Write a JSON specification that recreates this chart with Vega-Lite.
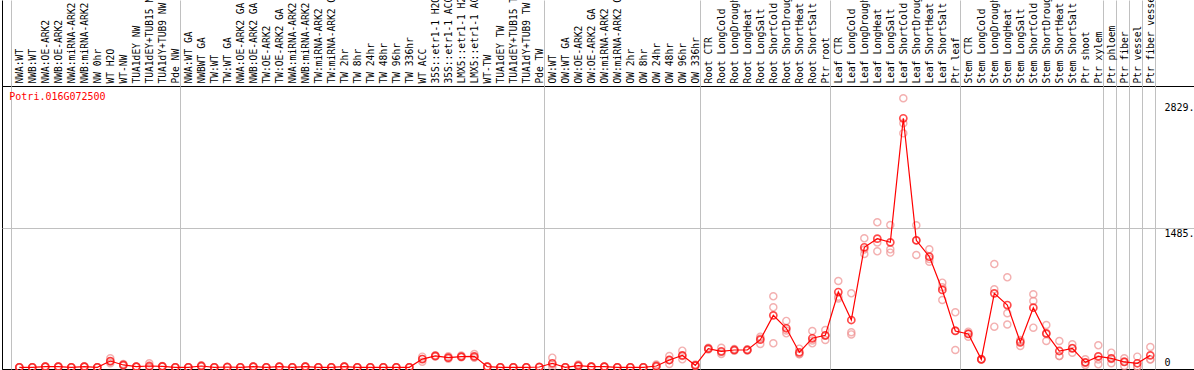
{
  "$schema": "https://vega.github.io/schema/vega-lite/v6.json",
  "width": 1192,
  "height": 283,
  "padding": {"top": 86, "left": 2, "right": 0, "bottom": 1},
  "autosize": {"type": "none"},
  "background": "white",
  "config": {"view": {"stroke": "black", "strokeWidth": 1}, "font": "DejaVu Sans Mono"},
  "datasets": {
    "means": [
      {"i":1,"sample":"NWA:WT","value":0},{"i":2,"sample":"NWB:WT","value":0},{"i":3,"sample":"NWA:OE-ARK2","value":7},{"i":4,"sample":"NWB:OE-ARK2","value":7},
      {"i":5,"sample":"NWA:miRNA-ARK2","value":0},{"i":6,"sample":"NWB:miRNA-ARK2","value":7},{"i":7,"sample":"NW 0hr","value":0},{"i":8,"sample":"WT H2O","value":67},
      {"i":9,"sample":"WT-NW","value":25},{"i":10,"sample":"TUA1dEY NW","value":7},{"i":11,"sample":"TUA1dEY+TUB15 NW","value":14},{"i":12,"sample":"TUA1dY+TUB9 NW","value":10},
      {"i":13,"sample":"Pde NW","value":0},{"i":14,"sample":"NWA:WT GA","value":0},{"i":15,"sample":"NWBWT GA","value":14},{"i":16,"sample":"TW:WT","value":0},
      {"i":17,"sample":"TW:WT GA","value":3},{"i":18,"sample":"NWA:OE-ARK2 GA","value":0},{"i":19,"sample":"NWB:OE-ARK2 GA","value":7},{"i":20,"sample":"TW:OE-ARK2","value":0},
      {"i":21,"sample":"TW:OE-ARK2 GA","value":7},{"i":22,"sample":"NWA:miRNA-ARK2 GA","value":0},{"i":23,"sample":"NWB:miRNA-ARK2 GA","value":7},{"i":24,"sample":"TW:miRNA-ARK2","value":0},
      {"i":25,"sample":"TW:miRNA-ARK2 GA","value":0},{"i":26,"sample":"TW 2hr","value":7},{"i":27,"sample":"TW 8hr","value":0},{"i":28,"sample":"TW 24hr","value":0},
      {"i":29,"sample":"TW 48hr","value":0},{"i":30,"sample":"TW 96hr","value":0},{"i":31,"sample":"TW 336hr","value":0},{"i":32,"sample":"WT ACC","value":88},
      {"i":33,"sample":"35S::etr1-1 H2O","value":121},{"i":34,"sample":"35S::etr1-1 ACC","value":103},{"i":35,"sample":"LMX5::etr1-1 H2O","value":114},{"i":36,"sample":"LMX5::etr1-1 ACC","value":117},
      {"i":37,"sample":"WT-TW","value":7},{"i":38,"sample":"TUA1dEY TW","value":0},{"i":39,"sample":"TUA1dEY+TUB15 TW","value":0},{"i":40,"sample":"TUA1dY+TUB9 TW","value":0},
      {"i":41,"sample":"Pde TW","value":3},{"i":42,"sample":"OW:WT","value":43},{"i":43,"sample":"OW:WT GA","value":0},{"i":44,"sample":"OW:OE-ARK2","value":18},
      {"i":45,"sample":"OW:OE-ARK2 GA","value":7},{"i":46,"sample":"OW:miRNA-ARK2","value":7},{"i":47,"sample":"OW:miRNA-ARK2 GA","value":0},{"i":48,"sample":"OW 2hr","value":0},
      {"i":49,"sample":"OW 8hr","value":0},{"i":50,"sample":"OW 24hr","value":14},{"i":51,"sample":"OW 48hr","value":78},{"i":52,"sample":"OW 96hr","value":128},
      {"i":53,"sample":"OW 336hr","value":21},{"i":54,"sample":"Root CTR","value":199},{"i":55,"sample":"Root LongCold","value":171},{"i":56,"sample":"Root LongDrought","value":185},
      {"i":57,"sample":"Root LongHeat","value":185},{"i":58,"sample":"Root LongSalt","value":295},{"i":59,"sample":"Root ShortCold","value":555},{"i":60,"sample":"Root ShortDrought","value":417},
      {"i":61,"sample":"Root ShortHeat","value":160},{"i":62,"sample":"Root ShortSalt","value":310},{"i":63,"sample":"Ptr root","value":342},{"i":64,"sample":"Leaf CTR","value":804},
      {"i":65,"sample":"Leaf LongCold","value":505},{"i":66,"sample":"Leaf LongDrought","value":1282},{"i":67,"sample":"Leaf LongHeat","value":1374},{"i":68,"sample":"Leaf LongSalt","value":1335},
      {"i":69,"sample":"Leaf ShortCold","value":2660},{"i":70,"sample":"Leaf ShortDrought","value":1357},{"i":71,"sample":"Leaf ShortHeat","value":1182},{"i":72,"sample":"Leaf ShortSalt","value":826},
      {"i":73,"sample":"Ptr leaf","value":388},{"i":74,"sample":"Stem CTR","value":356},{"i":75,"sample":"Stem LongCold","value":85},{"i":76,"sample":"Stem LongDrought","value":790},
      {"i":77,"sample":"Stem LongHeat","value":665},{"i":78,"sample":"Stem LongSalt","value":267},{"i":79,"sample":"Stem ShortCold","value":637},{"i":80,"sample":"Stem ShortDrought","value":363},
      {"i":81,"sample":"Stem ShortHeat","value":174},{"i":82,"sample":"Stem ShortSalt","value":203},{"i":83,"sample":"Ptr shoot","value":53},{"i":84,"sample":"Ptr xylem","value":117},
      {"i":85,"sample":"Ptr phloem","value":96},{"i":86,"sample":"Ptr fiber","value":57},{"i":87,"sample":"Ptr vessel","value":43},{"i":88,"sample":"Ptr fiber vessel","value":128}
    ],
    "reps": [
      {"i":1,"value":0},{"i":1,"value":0},{"i":1,"value":1},
      {"i":2,"value":0},{"i":2,"value":1},{"i":2,"value":0},
      {"i":3,"value":12},{"i":3,"value":5},{"i":3,"value":4},
      {"i":4,"value":10},{"i":4,"value":6},{"i":4,"value":5},
      {"i":5,"value":0},{"i":5,"value":1},{"i":5,"value":0},
      {"i":6,"value":11},{"i":6,"value":5},{"i":6,"value":5},
      {"i":7,"value":0},{"i":7,"value":0},{"i":7,"value":1},
      {"i":8,"value":96},{"i":8,"value":43},{"i":8,"value":62},
      {"i":9,"value":35},{"i":9,"value":22},{"i":9,"value":18},
      {"i":10,"value":9},{"i":10,"value":6},{"i":10,"value":6},
      {"i":11,"value":43},{"i":11,"value":0},{"i":11,"value":0},
      {"i":12,"value":14},{"i":12,"value":8},{"i":12,"value":8},
      {"i":13,"value":0},{"i":13,"value":0},{"i":13,"value":0},
      {"i":14,"value":1},{"i":14,"value":0},{"i":14,"value":0},
      {"i":15,"value":22},{"i":15,"value":12},{"i":15,"value":8},
      {"i":16,"value":0},{"i":16,"value":0},{"i":16,"value":0},
      {"i":17,"value":5},{"i":17,"value":2},{"i":17,"value":2},
      {"i":18,"value":1},{"i":18,"value":0},{"i":18,"value":0},
      {"i":19,"value":10},{"i":19,"value":6},{"i":19,"value":5},
      {"i":20,"value":0},{"i":20,"value":1},{"i":20,"value":0},
      {"i":21,"value":9},{"i":21,"value":6},{"i":21,"value":6},
      {"i":22,"value":0},{"i":22,"value":0},{"i":22,"value":1},
      {"i":23,"value":10},{"i":23,"value":5},{"i":23,"value":6},
      {"i":24,"value":1},{"i":24,"value":0},{"i":24,"value":0},
      {"i":25,"value":0},{"i":25,"value":0},{"i":25,"value":0},
      {"i":26,"value":11},{"i":26,"value":5},{"i":26,"value":5},
      {"i":27,"value":0},{"i":27,"value":1},{"i":27,"value":0},
      {"i":28,"value":0},{"i":28,"value":0},{"i":28,"value":0},
      {"i":29,"value":1},{"i":29,"value":0},{"i":29,"value":0},
      {"i":30,"value":0},{"i":30,"value":0},{"i":30,"value":0},
      {"i":31,"value":0},{"i":31,"value":0},{"i":31,"value":1},
      {"i":32,"value":114},{"i":32,"value":60},{"i":32,"value":90},
      {"i":33,"value":130},{"i":33,"value":115},{"i":33,"value":118},
      {"i":34,"value":118},{"i":34,"value":90},{"i":34,"value":101},
      {"i":35,"value":125},{"i":35,"value":108},{"i":35,"value":109},
      {"i":36,"value":142},{"i":36,"value":105},{"i":36,"value":104},
      {"i":37,"value":9},{"i":37,"value":6},{"i":37,"value":6},
      {"i":38,"value":0},{"i":38,"value":0},{"i":38,"value":1},
      {"i":39,"value":0},{"i":39,"value":0},{"i":39,"value":0},
      {"i":40,"value":1},{"i":40,"value":0},{"i":40,"value":0},
      {"i":41,"value":5},{"i":41,"value":2},{"i":41,"value":2},
      {"i":42,"value":103},{"i":42,"value":0},{"i":42,"value":26},
      {"i":43,"value":0},{"i":43,"value":1},{"i":43,"value":0},
      {"i":44,"value":30},{"i":44,"value":12},{"i":44,"value":12},
      {"i":45,"value":10},{"i":45,"value":5},{"i":45,"value":6},
      {"i":46,"value":9},{"i":46,"value":6},{"i":46,"value":6},
      {"i":47,"value":0},{"i":47,"value":0},{"i":47,"value":0},
      {"i":48,"value":0},{"i":48,"value":1},{"i":48,"value":0},
      {"i":49,"value":0},{"i":49,"value":0},{"i":49,"value":0},
      {"i":50,"value":30},{"i":50,"value":7},{"i":50,"value":5},
      {"i":51,"value":121},{"i":51,"value":36},{"i":51,"value":77},
      {"i":52,"value":178},{"i":52,"value":85},{"i":52,"value":121},
      {"i":53,"value":30},{"i":53,"value":15},{"i":53,"value":18},
      {"i":54,"value":210},{"i":54,"value":190},{"i":54,"value":197},
      {"i":55,"value":209},{"i":55,"value":142},{"i":55,"value":162},
      {"i":56,"value":195},{"i":56,"value":178},{"i":56,"value":182},
      {"i":57,"value":192},{"i":57,"value":180},{"i":57,"value":183},
      {"i":58,"value":327},{"i":58,"value":249},{"i":58,"value":309},
      {"i":59,"value":758},{"i":59,"value":641},{"i":59,"value":256},
      {"i":60,"value":495},{"i":60,"value":363},{"i":60,"value":393},
      {"i":61,"value":199},{"i":61,"value":140},{"i":61,"value":141},
      {"i":62,"value":388},{"i":62,"value":256},{"i":62,"value":286},
      {"i":63,"value":398},{"i":63,"value":292},{"i":63,"value":336},
      {"i":64,"value":922},{"i":64,"value":754},{"i":64,"value":736},
      {"i":65,"value":790},{"i":65,"value":374},{"i":65,"value":351},
      {"i":66,"value":1378},{"i":66,"value":1210},{"i":66,"value":1258},
      {"i":67,"value":1549},{"i":67,"value":1239},{"i":67,"value":1334},
      {"i":68,"value":1520},{"i":68,"value":1260},{"i":68,"value":1225},
      {"i":69,"value":2874},{"i":69,"value":2607},{"i":69,"value":2499},
      {"i":70,"value":1517},{"i":70,"value":1200},{"i":70,"value":1354},
      {"i":71,"value":1260},{"i":71,"value":1128},{"i":71,"value":1158},
      {"i":72,"value":904},{"i":72,"value":719},{"i":72,"value":855},
      {"i":73,"value":587},{"i":73,"value":185},{"i":73,"value":392},
      {"i":74,"value":381},{"i":74,"value":327},{"i":74,"value":360},
      {"i":75,"value":88},{"i":75,"value":82},{"i":75,"value":85},
      {"i":76,"value":1103},{"i":76,"value":833},{"i":76,"value":434},
      {"i":77,"value":961},{"i":77,"value":577},{"i":77,"value":457},
      {"i":78,"value":292},{"i":78,"value":228},{"i":78,"value":281},
      {"i":79,"value":780},{"i":79,"value":708},{"i":79,"value":423},
      {"i":80,"value":452},{"i":80,"value":281},{"i":80,"value":356},
      {"i":81,"value":281},{"i":81,"value":121},{"i":81,"value":120},
      {"i":82,"value":246},{"i":82,"value":156},{"i":82,"value":207},
      {"i":83,"value":85},{"i":83,"value":25},{"i":83,"value":49},
      {"i":84,"value":235},{"i":84,"value":32},{"i":84,"value":84},
      {"i":85,"value":156},{"i":85,"value":43},{"i":85,"value":89},
      {"i":86,"value":96},{"i":86,"value":14},{"i":86,"value":61},
      {"i":87,"value":114},{"i":87,"value":7},{"i":87,"value":8},
      {"i":88,"value":217},{"i":88,"value":85},{"i":88,"value":82}
    ]
  },
  "layer": [
    {
      "data": {"name": "reps"},
      "mark": {"type": "point", "shape": "circle", "filled": false, "color": "#ef8f8f", "size": 50, "strokeWidth": 1.4},
      "encoding": {
        "x": {"field": "i", "type": "quantitative", "scale": {"domain": [-0.331, 91.36], "nice": false, "zero": false},
          "axis": {"orient": "top", "values": [-0.331, 0.385, 13.385, 41.385, 53.385, 63.385, 73.385, 84.385, 85.385, 86.385, 87.385, 88.385],
            "labels": false, "domain": false, "grid": true, "gridWidth": 1,
            "gridColor": {"condition": {"test": "datum.value < 0", "value": "black"}, "value": "#c0c0c0"},
            "ticks": true, "tickSize": 86, "tickWidth": 1,
            "tickColor": {"condition": {"test": "datum.value < 0", "value": "black"}, "value": "#c0c0c0"},
            "title": null}},
        "y": {"field": "value", "type": "quantitative", "scale": {"domain": [-18.2, 3005], "nice": false, "zero": false},
          "axis": {"orient": "right", "offset": -34, "values": [0, 1485, 2829],
            "labelExpr": "datum.value == 0 ? '0' : datum.value + '.'",
            "labelAlign": "left",
            "labelBaseline": {"condition": {"test": "datum.value == 0", "value": "bottom"}, "value": "top"},
            "labelPadding": 4, "labelFont": "DejaVu Sans Mono", "labelFontSize": 10, "labelColor": "black",
            "labelFlush": false, "labelOverlap": false,
            "ticks": false, "domain": false, "grid": true, "gridColor": "#c0c0c0", "gridWidth": 1,
            "gridOpacity": {"condition": {"test": "datum.value == 1485", "value": 1}, "value": 0},
            "title": null}}
      }
    },
    {
      "data": {"name": "means"},
      "mark": {"type": "line", "color": "#ff0000", "strokeWidth": 1.2},
      "encoding": {
        "x": {"field": "i", "type": "quantitative", "scale": {"domain": [-0.331, 91.36], "nice": false, "zero": false},
          "axis": {"orient": "top",
            "values": [1,2,3,4,5,6,7,8,9,10,11,12,13,14,15,16,17,18,19,20,21,22,23,24,25,26,27,28,29,30,31,32,33,34,35,36,37,38,39,40,41,42,43,44,45,46,47,48,49,50,51,52,53,54,55,56,57,58,59,60,61,62,63,64,65,66,67,68,69,70,71,72,73,74,75,76,77,78,79,80,81,82,83,84,85,86,87,88],
            "labelExpr": "['NWA:WT','NWB:WT','NWA:OE-ARK2','NWB:OE-ARK2','NWA:miRNA-ARK2','NWB:miRNA-ARK2','NW 0hr','WT H2O','WT-NW','TUA1dEY NW','TUA1dEY+TUB15 NW','TUA1dY+TUB9 NW','Pde NW','NWA:WT GA','NWBWT GA','TW:WT','TW:WT GA','NWA:OE-ARK2 GA','NWB:OE-ARK2 GA','TW:OE-ARK2','TW:OE-ARK2 GA','NWA:miRNA-ARK2 GA','NWB:miRNA-ARK2 GA','TW:miRNA-ARK2','TW:miRNA-ARK2 GA','TW 2hr','TW 8hr','TW 24hr','TW 48hr','TW 96hr','TW 336hr','WT ACC','35S::etr1-1 H2O','35S::etr1-1 ACC','LMX5::etr1-1 H2O','LMX5::etr1-1 ACC','WT-TW','TUA1dEY TW','TUA1dEY+TUB15 TW','TUA1dY+TUB9 TW','Pde TW','OW:WT','OW:WT GA','OW:OE-ARK2','OW:OE-ARK2 GA','OW:miRNA-ARK2','OW:miRNA-ARK2 GA','OW 2hr','OW 8hr','OW 24hr','OW 48hr','OW 96hr','OW 336hr','Root CTR','Root LongCold','Root LongDrought','Root LongHeat','Root LongSalt','Root ShortCold','Root ShortDrought','Root ShortHeat','Root ShortSalt','Ptr root','Leaf CTR','Leaf LongCold','Leaf LongDrought','Leaf LongHeat','Leaf LongSalt','Leaf ShortCold','Leaf ShortDrought','Leaf ShortHeat','Leaf ShortSalt','Ptr leaf','Stem CTR','Stem LongCold','Stem LongDrought','Stem LongHeat','Stem LongSalt','Stem ShortCold','Stem ShortDrought','Stem ShortHeat','Stem ShortSalt','Ptr shoot','Ptr xylem','Ptr phloem','Ptr fiber','Ptr vessel','Ptr fiber vessel'][datum.value - 1]",
            "labelAngle": 270, "labelAlign": "left", "labelBaseline": "middle", "labelPadding": 3,
            "labelFont": "DejaVu Sans Mono", "labelFontSize": 9.6, "labelColor": "black",
            "labelOverlap": false, "labelFlush": false, "labelLimit": 300,
            "ticks": false, "domain": false, "grid": false, "title": null}},
        "y": {"field": "value", "type": "quantitative", "scale": {"domain": [-18.2, 3005], "nice": false, "zero": false}, "axis": null}
      }
    },
    {
      "data": {"name": "means"},
      "mark": {"type": "point", "shape": "circle", "filled": false, "color": "#ff0000", "size": 50, "strokeWidth": 1.7},
      "encoding": {
        "x": {"field": "i", "type": "quantitative", "scale": {"domain": [-0.331, 91.36], "nice": false, "zero": false}, "axis": null},
        "y": {"field": "value", "type": "quantitative", "scale": {"domain": [-18.2, 3005], "nice": false, "zero": false}, "axis": null}
      }
    },
    {
      "data": {"values": [{"gene": "Potri.016G072500"}]},
      "mark": {"type": "text", "color": "#ff0000", "align": "left", "baseline": "middle", "font": "DejaVu Sans Mono", "fontSize": 10},
      "encoding": {
        "x": {"datum": 0.23, "type": "quantitative", "axis": null},
        "y": {"datum": 2887, "type": "quantitative", "axis": null},
        "text": {"field": "gene"}
      }
    }
  ],
  "resolve": {"axis": {"x": "independent", "y": "independent"}}
}
